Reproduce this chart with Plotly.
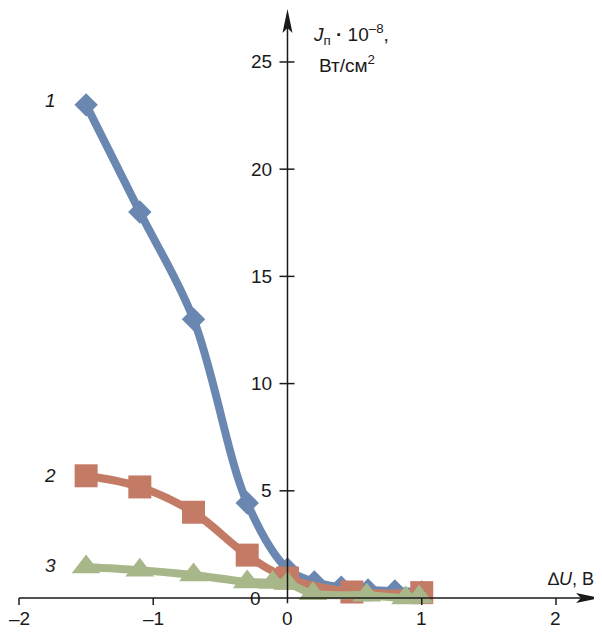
import plotly.graph_objects as go

# ---- data ----
x1 = [-1.5, -1.1, -0.7, -0.3, 0.0, 0.2, 0.4, 0.6, 0.8, 1.0]
y1 = [23.0, 18.0, 13.0, 4.43, 1.35, 0.75, 0.5, 0.37, 0.33, 0.28]

x2 = [-1.5, -1.1, -0.7, -0.3, 0.0, 0.48, 1.0]
y2 = [5.7, 5.18, 4.0, 2.0, 0.93, 0.28, 0.25]

x3 = [-1.5, -1.1, -0.7, -0.3, -0.11, 0.0, 0.19, 0.59, 0.88, 0.98]
y3 = [1.45, 1.3, 1.07, 0.75, 0.72, 0.68, 0.2, 0.13, 0.0, 0.05]

series_labels = ["1", "2", "3"]
x_ticks = [-2, -1, 0, 1, 2]
x_tick_text = ["–2", "–1", "0", "1", "2"]
y_ticks = [5, 10, 15, 20, 25]
y_tick_text = ["5", "10", "15", "20", "25"]

colors = ["#6a87b1", "#c47b65", "#a8b78a"]
FONT = "Liberation Sans Narrow, Arial Narrow, Liberation Sans, Arial, sans-serif"
INK = "#1a1a1a"

# page body has an 8px margin; keep the figure inside the 602x636 window
W, H = 594, 620
XR = [-2.0819, 2.3427]
YR = [-1.399, 27.517]
px_x = (XR[1] - XR[0]) / W
px_y = (YR[1] - YR[0]) / H

fig = go.Figure()
for xs, ys, col, sym, sz in [
    (x1, y1, colors[0], "diamond", 18),
    (x2, y2, colors[1], "square", 23),
    (x3, y3, colors[2], "triangle-up", 25),
]:
    fig.add_trace(go.Scatter(
        x=xs, y=ys, mode="lines+markers",
        line=dict(color=col, width=8, shape="spline", smoothing=1.0),
        marker=dict(symbol=sym, size=sz, color=col, line=dict(width=0)),
        showlegend=False, cliponaxis=False,
    ))

shapes = []
annotations = []

# axis lines
x_tip = XR[1] - 2 * px_x
y_tip = YR[1] - 1 * px_y
shapes.append(dict(type="line", xref="x", yref="y", x0=-2, x1=x_tip - 16 * px_x, y0=0, y1=0,
                   line=dict(color=INK, width=1.5)))
shapes.append(dict(type="line", xref="x", yref="y", x0=0, x1=0, y0=-0.25, y1=y_tip - 16 * px_y,
                   line=dict(color=INK, width=1.5)))
# arrowheads
L, N, HW = 24, 19, 5
shapes.append(dict(type="path", xref="x", yref="y", fillcolor=INK, line=dict(width=0),
                   path=f"M{x_tip},0 L{x_tip - L*px_x},{HW*px_y} L{x_tip - N*px_x},0 "
                        f"L{x_tip - L*px_x},{-HW*px_y} Z"))
shapes.append(dict(type="path", xref="x", yref="y", fillcolor=INK, line=dict(width=0),
                   path=f"M0,{y_tip} L{HW*px_x},{y_tip - L*px_y} L0,{y_tip - N*px_y} "
                        f"L{-HW*px_x},{y_tip - L*px_y} Z"))

# x ticks
for v, t in zip(x_ticks, x_tick_text):
    if v != 0:
        shapes.append(dict(type="line", xref="x", yref="y", x0=v, x1=v,
                           y0=0, y1=-7 * px_y, line=dict(color=INK, width=1.5)))
    annotations.append(dict(x=v, y=0, xref="x", yref="y", text=t, showarrow=False,
                            yshift=-20, font=dict(family=FONT, size=19, color=INK)))
# y ticks
for v, t in zip(y_ticks, y_tick_text):
    shapes.append(dict(type="line", xref="x", yref="y", x0=-8 * px_x, x1=7 * px_x,
                       y0=v, y1=v, line=dict(color=INK, width=1.5)))
    annotations.append(dict(x=0, y=v, xref="x", yref="y", text=t, showarrow=False,
                            xanchor="right", xshift=-13, font=dict(family=FONT, size=19, color=INK)))
annotations.append(dict(x=0, y=0, xref="x", yref="y", text="0", showarrow=False,
                        xanchor="right", xshift=-24, font=dict(family=FONT, size=19, color=INK)))

# axis titles
annotations.append(dict(x=0, y=YR[1] - 26 * px_y, xref="x", yref="y",
                        text="<i>J</i><sub>п</sub> <b>·</b> 10<sup>–8</sup>,",
                        showarrow=False, xanchor="left", xshift=24,
                        font=dict(family=FONT, size=19, color=INK)))
annotations.append(dict(x=0, y=YR[1] - 56 * px_y, xref="x", yref="y",
                        text="Вт/см<sup>2</sup>",
                        showarrow=False, xanchor="left", xshift=30,
                        font=dict(family=FONT, size=19, color=INK)))
annotations.append(dict(x=XR[1], y=0, xref="x", yref="y",
                        text="∆<i>U</i>, В", showarrow=False, xanchor="right",
                        xshift=-6, yshift=19,
                        font=dict(family=FONT, size=18, color=INK)))

# curve labels
label_yshift = [4, 0, 1]
for xs, ys, lab, dy in [(x1, y1, series_labels[0], label_yshift[0]),
                        (x2, y2, series_labels[1], label_yshift[1]),
                        (x3, y3, series_labels[2], label_yshift[2])]:
    annotations.append(dict(x=xs[0], y=ys[0], xref="x", yref="y", text="<i>" + lab + "</i>",
                            showarrow=False, xshift=-36, yshift=dy,
                            font=dict(family=FONT, size=19, color=INK)))

fig.update_layout(
    width=W, height=H,
    margin=dict(l=0, r=0, t=0, b=0),
    paper_bgcolor="white", plot_bgcolor="white",
    xaxis=dict(range=XR, visible=False, fixedrange=True),
    yaxis=dict(range=YR, visible=False, fixedrange=True),
    shapes=shapes, annotations=annotations,
)

fig.write_html("out.html")
